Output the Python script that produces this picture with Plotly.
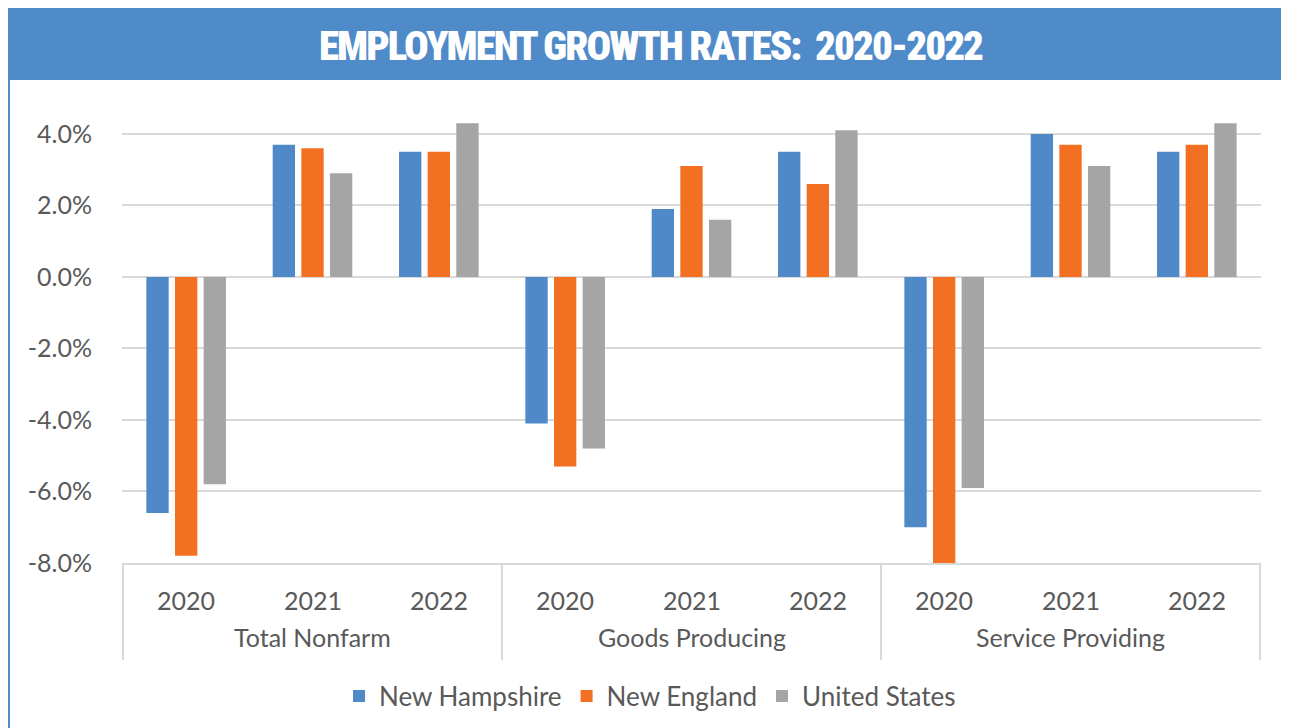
import plotly.graph_objects as go

groups = ["Total Nonfarm", "Goods Producing", "Service Providing"]
years = ["2020", "2021", "2022"]
series_names = ["New Hampshire", "New England", "United States"]
new_hampshire = [-6.6, 3.7, 3.5, -4.1, 1.9, 3.5, -7.0, 4.0, 3.5]
new_england = [-7.8, 3.6, 3.5, -5.3, 3.1, 2.6, -8.1, 3.7, 3.7]
united_states = [-5.8, 2.9, 4.3, -4.8, 1.6, 4.1, -5.9, 3.1, 4.3]
y_ticks = [-8, -6, -4, -2, 0, 2, 4]
y_tick_labels = ["-8.0%", "-6.0%", "-4.0%", "-2.0%", "0.0%", "2.0%", "4.0%"]
title_text = "EMPLOYMENT GROWTH RATES:  2020-2022"

colors = ["#4F89C8", "#F37022", "#A5A5A5"]
values = [new_hampshire, new_england, united_states]

x_outer = [g for g in groups for _ in years]
x_inner = [y for _ in groups for y in years]

# figure sits at (8, 8) in the page (body margin)
W, H = 1281, 720
L, R, T, B = 114, 28, 112, 165
pw, ph = W - L - R, H - T - B


def xp(px):
    return (px - L) / pw


def yp(py):
    return (H - B - py) / ph


FONT = "Lato"
TXT = "#595959"
BLUE = "#4F8AC9"
GRID = "#D9D9D9"
TITLE_FONT = "Roboto, Noto Sans, sans-serif"

fig = go.Figure()
for name, vals, col in zip(series_names, values, colors):
    fig.add_trace(go.Bar(
        x=[x_outer, x_inner], y=vals, name=name,
        marker=dict(color=col, line=dict(width=0)),
    ))

shapes = [
    dict(type="rect", xref="paper", yref="paper",
         x0=xp(1), x1=xp(1280), y0=yp(0), y1=yp(740),
         line=dict(color=BLUE, width=2), fillcolor="rgba(0,0,0,0)", layer="below"),
    dict(type="rect", xref="paper", yref="paper",
         x0=xp(0), x1=xp(1281), y0=yp(72), y1=yp(0),
         line=dict(width=0), fillcolor=BLUE, layer="below"),
]
# category-group dividers below the axis (at category boundaries)
n_years = len(years)
for j in range(len(groups) + 1):
    xb = j * n_years - 0.5
    shapes.append(dict(type="line", xref="x", yref="paper",
                       x0=xb, x1=xb, y0=0, y1=yp(652),
                       line=dict(color=GRID, width=2)))

annotations = [dict(text='<span style="font-stretch:condensed;letter-spacing:-2px">'
                         + title_text + '</span>',
                    xref="paper", yref="paper",
                    x=xp(643), y=yp(38), xanchor="center", yanchor="middle",
                    showarrow=False,
                    font=dict(family=TITLE_FONT, size=41, color="white", weight=900))]
for i, yr in enumerate(x_inner):
    annotations.append(dict(text=yr, xref="x", yref="paper", x=i, y=yp(592),
                            xanchor="center", yanchor="middle", showarrow=False,
                            font=dict(family=FONT, size=25, color=TXT)))
for j, g in enumerate(groups):
    annotations.append(dict(text=g, xref="x", yref="paper",
                            x=j * n_years + (n_years - 1) / 2, y=yp(629),
                            xanchor="center", yanchor="middle", showarrow=False,
                            font=dict(family=FONT, size=25, color=TXT)))

fig.update_layout(
    width=W, height=H,
    margin=dict(l=L, r=R, t=T, b=B, autoexpand=False),
    paper_bgcolor="white", plot_bgcolor="white",
    barmode="group", bargap=0.32, bargroupgap=0.22,
    font=dict(family=FONT, color=TXT, size=25),
    showlegend=True,
    legend=dict(orientation="h", xref="paper", yref="paper",
                x=xp(642), xanchor="center", y=yp(688), yanchor="middle",
                font=dict(size=26, color=TXT, family=FONT),
                traceorder="normal", itemwidth=30),
    shapes=shapes,
    annotations=annotations,
)

fig.update_yaxes(
    range=[-8, 4.39], tickvals=y_ticks, ticktext=y_tick_labels,
    showgrid=True, gridcolor=GRID, gridwidth=2,
    zeroline=False, showline=False, ticks="",
    ticklabelstandoff=29, tickfont=dict(size=25, color=TXT),
)
fig.update_xaxes(
    type="multicategory", showline=True, linecolor=GRID, linewidth=2,
    showdividers=False, showticklabels=False, ticks="", showgrid=False,
)

fig.write_html("out.html")
